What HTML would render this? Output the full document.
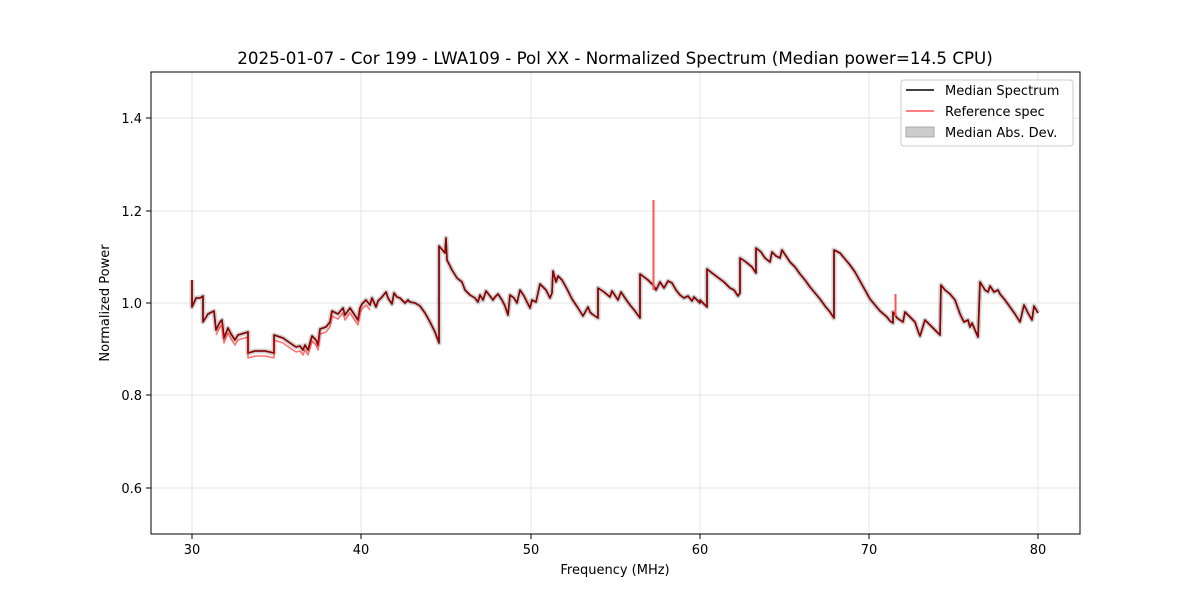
<!DOCTYPE html>
<html><head><meta charset="utf-8"><style>body{margin:0;background:#fff}svg{display:block;font-family:"DejaVu Sans","Liberation Sans",sans-serif}</style></head><body>
<svg width="1200" height="600" viewBox="0 0 1200 600">
<defs><clipPath id="c"><rect x="151" y="72" width="929" height="462"/></clipPath>
<polyline id="p" points="192,280 192,307 196,298 200,298 203,296 203,322 208,314 214,311 216,330 220,322 222,320 224,338 228,328 231,334 235,340 238,335 248,332 248,353 255,351 265,351 274,353 274,335 283,338 290,343 296,347 300,346 303,350 305,345 308,350 312,336 316,340 318,345 320,329 326,327 330,322 332,311 338,314 343,308 345,315 350,308 354,314 358,320 360,308 362,304 366,300 370,305 372,298 376,307 378,301 382,297 386,292 388,298 392,304 394,293 397,297 400,298 402,300 405,303 408,300 410,302 415,303 420,306 425,313 430,322 435,332 439,343 439,246 445,253 446,238 447,260 452,270 457,278 462,282 465,290 470,295 475,298 478,302 480,295 483,300 486,291 490,296 493,300 495,297 498,294 502,300 505,306 508,315 510,295 514,298 517,303 520,290 524,296 528,304 530,308 532,300 536,302 540,284 546,290 550,298 552,293 553,271 556,282 558,276 562,280 567,289 572,299 578,308 583,316 588,307 590,312 592,314 598,318 598,288 604,292 610,297 612,291 618,300 621,292 625,298 630,305 635,311 640,318 640,274 648,280 654,286 656,290 660,282 664,288 668,281 672,283 676,290 680,295 684,298 688,296 692,301 694,297 700,303 700,300 707,307 707,269 712,273 720,279 724,282 730,288 734,290 738,296 740,293 740,258 746,262 752,267 756,273 756,248 761,252 765,258 770,262 772,252 776,256 780,258 782,250 786,256 790,262 795,267 800,274 805,280 810,287 815,293 820,299 825,306 830,312 834,318 834,250 840,253 845,259 850,265 855,272 860,281 865,290 870,299 875,305 880,311 887,317 890,321 893,323 893,312 897,318 903,322 905,312 910,317 915,322 918,331 920,336 925,320 930,325 935,330 940,335 941,285 945,290 950,294 955,300 960,314 964,322 968,320 970,327 972,323 975,330 978,337 980,282 985,290 988,292 990,286 994,292 998,290 1000,294 1005,300 1010,307 1015,314 1020,322 1024,305 1028,313 1032,320 1034,306 1038,313"/>
</defs>
<g stroke="#e6e6e6" stroke-width="1">
<line x1="192" y1="72" x2="192" y2="534"/><line x1="361" y1="72" x2="361" y2="534"/><line x1="531" y1="72" x2="531" y2="534"/><line x1="700" y1="72" x2="700" y2="534"/><line x1="869" y1="72" x2="869" y2="534"/><line x1="1038" y1="72" x2="1038" y2="534"/>
<line x1="151" y1="118" x2="1080" y2="118"/><line x1="151" y1="211" x2="1080" y2="211"/><line x1="151" y1="303" x2="1080" y2="303"/><line x1="151" y1="395" x2="1080" y2="395"/><line x1="151" y1="488" x2="1080" y2="488"/>
</g>
<g clip-path="url(#c)" fill="none" stroke-linejoin="round">
<use href="#p" stroke="#999" stroke-opacity="0.45" stroke-width="5"/>
<use href="#p" stroke="#000" stroke-width="1.6"/>
<use href="#p" stroke="#ff0000" stroke-opacity="0.55" stroke-width="1.6"/>
<g transform="translate(0,5)"><polyline stroke="#ff0000" stroke-opacity="0.55" stroke-width="1.6" points="216,330 220,322 222,320 224,338 228,328 231,334 235,340 238,335 248,332 248,353 255,351 265,351 274,353 274,335 283,338 290,343 296,347 300,346 303,350 305,345 308,350 312,336 316,340 318,345 320,329 326,327 330,322 332,311 338,314 343,308 345,315 350,308 354,314 358,320 360,308 362,304 366,300 370,305"/></g>
<line x1="653.5" y1="200" x2="653.5" y2="290" stroke="#ff5555" stroke-width="2"/>
<line x1="895.5" y1="294" x2="895.5" y2="316" stroke="#ff5555" stroke-width="2"/>
</g>
<rect x="151" y="72" width="929" height="462" fill="none" stroke="#000" stroke-width="1"/>
<g stroke="#000"><line x1="192" y1="534" x2="192" y2="539"/><line x1="361" y1="534" x2="361" y2="539"/><line x1="531" y1="534" x2="531" y2="539"/><line x1="700" y1="534" x2="700" y2="539"/><line x1="869" y1="534" x2="869" y2="539"/><line x1="1038" y1="534" x2="1038" y2="539"/>
<line x1="146" y1="118" x2="151" y2="118"/><line x1="146" y1="211" x2="151" y2="211"/><line x1="146" y1="303" x2="151" y2="303"/><line x1="146" y1="395" x2="151" y2="395"/><line x1="146" y1="488" x2="151" y2="488"/></g>
<g font-size="13" text-anchor="middle"><text x="192" y="554">30</text><text x="361" y="554">40</text><text x="531" y="554">50</text><text x="700" y="554">60</text><text x="869" y="554">70</text><text x="1038" y="554">80</text></g>
<g font-size="13" text-anchor="end"><text x="142" y="123">1.4</text><text x="142" y="216">1.2</text><text x="142" y="308">1.0</text><text x="142" y="400">0.8</text><text x="142" y="493">0.6</text></g>
<text x="615" y="574" font-size="13" text-anchor="middle">Frequency (MHz)</text>
<text transform="translate(109,303) rotate(-90)" font-size="13" text-anchor="middle">Normalized Power</text>
<text x="615" y="64" font-size="16.7" text-anchor="middle">2025-01-07 - Cor 199 - LWA109 - Pol XX - Normalized Spectrum (Median power=14.5 CPU)</text>
<rect x="901" y="80" width="172" height="66" rx="3" fill="#fff" fill-opacity="0.8" stroke="#ccc"/>
<line x1="906" y1="90" x2="934" y2="90" stroke="#000" stroke-width="1.6"/>
<line x1="906" y1="111" x2="934" y2="111" stroke="#ff5555" stroke-width="1.6"/>
<rect x="906" y="127" width="28" height="10" fill="#ccc" stroke="#aaa"/>
<g font-size="13"><text x="945" y="95">Median Spectrum</text><text x="945" y="116">Reference spec</text><text x="945" y="137">Median Abs. Dev.</text></g>
</svg>
</body></html>
